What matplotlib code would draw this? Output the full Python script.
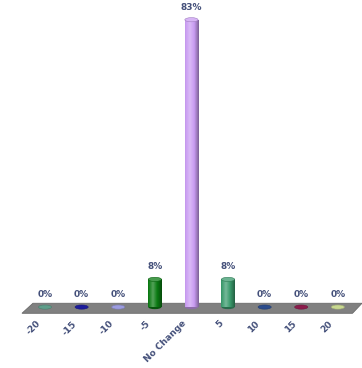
import numpy as np
import matplotlib
matplotlib.use("Agg")
import matplotlib.pyplot as plt
from matplotlib.patches import Polygon, Ellipse, Rectangle
from matplotlib.colors import to_rgb

categories = ['-20', '-15', '-10', '-5', 'No Change', '5', '10', '15', '20']
values = [0, 0, 0, 8, 83, 8, 0, 0, 0]
colors = ['#5f9e8a', '#1c1c9c', '#9c9ce0', '#0a7a12', '#c99cf2',
          '#3a9a6c', '#2c4c8c', '#8c1c4c', '#c8d890']

text_color = '#44507a'
bar_w = 0.36
cap_h = 1.2

fig = plt.figure(figsize=(3.62, 3.68), dpi=100)
ax = fig.add_axes([0, 0, 1, 1])
ax.set_xlim(-1.23, 8.66)
ax.set_ylim(-17.6, 88.7)
ax.axis('off')

# floor slab (slanted parallelogram)
px = 36.6   # pixels per category
py = 3.46   # pixels per percent
floor = Polygon([(-0.63, -1.8), (8.40, -1.8), (8.66, 1.1), (-0.33, 1.1)],
                closed=True, facecolor='#808080', edgecolor='#6a6a6a', lw=0.6, zorder=1)
ax.add_patch(floor)


def shade(c, n=40):
    # horizontal light/dark ramp across the cylinder face
    rgb = np.array(to_rgb(c))
    t = np.linspace(0, 1, n)
    k = 1 - 1.6 * np.abs(t - 0.35)
    row = []
    for v in k:
        if v > 0.5:
            row.append(rgb + (1 - rgb) * (v - 0.5) * 0.6)
        else:
            row.append(rgb * (0.65 + 0.7 * v))
    return np.clip(np.array(row), 0, 1)[None, :, :]


for i, (v, c) in enumerate(zip(values, colors)):
    x0 = i - bar_w / 2
    if v > 0:
        img = shade(c)
        body = Rectangle((x0, 0), bar_w, v, facecolor='none', edgecolor='none')
        ax.add_patch(body)
        im = ax.imshow(img, extent=(x0, x0 + bar_w, 0, v), aspect='auto', zorder=3)
        im.set_clip_path(body)
        bottom = Ellipse((i, 0), bar_w, cap_h, facecolor=np.array(to_rgb(c)) * 0.7,
                         edgecolor='none', zorder=2.9)
        ax.add_patch(bottom)
        top = Ellipse((i, v), bar_w, cap_h,
                      facecolor=np.array(to_rgb(c)) + (1 - np.array(to_rgb(c))) * 0.25,
                      edgecolor=np.array(to_rgb(c)) * 0.8, lw=0.4, zorder=4)
        ax.add_patch(top)
    else:
        flat = Ellipse((i, 0), bar_w, cap_h, facecolor=c,
                       edgecolor=np.array(to_rgb(c)) * 0.8, lw=0.4, zorder=3)
        ax.add_patch(flat)
    ax.text(i, v + 2.3, f'{v}%', ha='center', va='bottom', fontsize=6.5,
            fontweight='bold', color=text_color, zorder=5)
    ax.text(i - 0.17, -4.4, categories[i], ha='right', va='center', rotation=45,
            rotation_mode='anchor', fontsize=6.5, fontweight='bold', color=text_color)

fig.savefig('out.png', dpi=100)
